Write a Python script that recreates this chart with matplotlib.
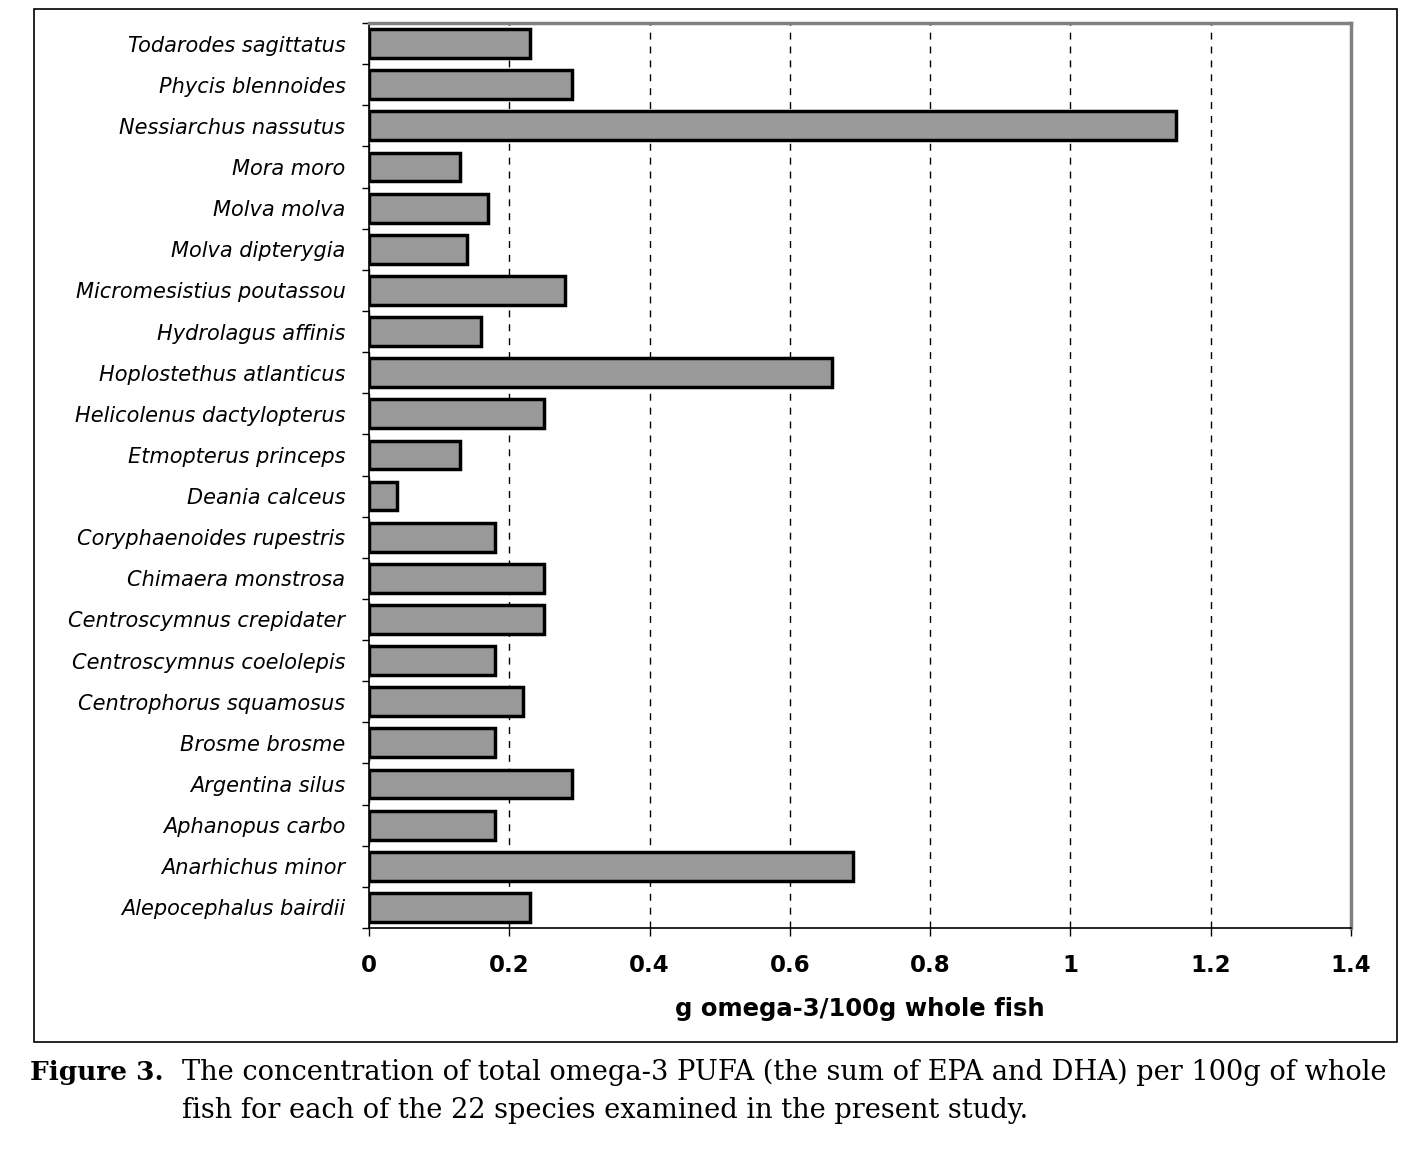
import matplotlib
matplotlib.use("Agg")
import matplotlib.pyplot as plt
from matplotlib.patches import Rectangle
import numpy as np

species = [
    "Alepocephalus bairdii", "Anarhichus minor", "Aphanopus carbo", "Argentina silus",
    "Brosme brosme", "Centrophorus squamosus", "Centroscymnus coelolepis",
    "Centroscymnus crepidater", "Chimaera monstrosa", "Coryphaenoides rupestris",
    "Deania calceus", "Etmopterus princeps", "Helicolenus dactylopterus",
    "Hoplostethus atlanticus", "Hydrolagus affinis", "Micromesistius poutassou",
    "Molva dipterygia", "Molva molva", "Mora moro", "Nessiarchus nassutus",
    "Phycis blennoides", "Todarodes sagittatus",
]
omega3 = [0.23, 0.69, 0.18, 0.29, 0.18, 0.22, 0.18, 0.25, 0.25, 0.18, 0.04, 0.13,
          0.25, 0.66, 0.16, 0.28, 0.14, 0.17, 0.13, 1.15, 0.29, 0.23]
xticks = [0, 0.2, 0.4, 0.6, 0.8, 1.0, 1.2, 1.4]
xticklabels = ["0", "0.2", "0.4", "0.6", "0.8", "1", "1.2", "1.4"]

W, H = 1413, 1150
fig = plt.figure(figsize=(W / 100, H / 100), dpi=100)
ax = fig.add_axes([369 / W, 1 - 928 / H, (1351 - 369) / W, (928 - 23) / H])

y = np.arange(len(species))
ax.barh(y, omega3, height=0.7, color="#999999", edgecolor="black", linewidth=2.5, zorder=3)
ax.set_ylim(-0.5, len(species) - 0.5)
ax.set_xlim(0, 1.4)

ax.set_yticks(np.arange(-0.5, len(species), 1.0))
ax.set_yticklabels([])
ax.set_yticks(y, minor=True)
ax.set_yticklabels(species, minor=True, fontstyle="italic", fontsize=15,
                   family="DejaVu Sans")
ax.tick_params(axis="y", which="minor", length=0, pad=17)
ax.tick_params(axis="y", which="major", length=5, width=1, direction="out")

ax.set_xticks(xticks)
ax.set_xticklabels(xticklabels, fontsize=16.5, fontweight="bold", family="DejaVu Sans")
ax.tick_params(axis="x", length=6, width=1, direction="out", pad=13)
ax.xaxis.grid(True, linestyle=(0, (5, 5)), color="black", linewidth=1, zorder=0)
ax.set_axisbelow(True)

ax.set_xlabel("g omega-3/100g whole fish", fontsize=17.5, fontweight="bold",
              family="DejaVu Sans", labelpad=14)

for s in ["top", "right"]:
    ax.spines[s].set_color("#808080")
    ax.spines[s].set_linewidth(2.5)
for s in ["left", "bottom"]:
    ax.spines[s].set_color("black")
    ax.spines[s].set_linewidth(1.2)

fig.patches.append(Rectangle((34 / W, 1 - 1042 / H), (1397 - 34) / W, (1042 - 9) / H,
                             transform=fig.transFigure, fill=False, edgecolor="black",
                             linewidth=1.2))

fig.text(30 / W, 1 - 1080 / H, "Figure 3.", fontsize=19, fontweight="bold",
         family="DejaVu Serif", va="baseline")
fig.text(182 / W, 1 - 1080 / H,
         "The concentration of total omega-3 PUFA (the sum of EPA and DHA) per 100g of whole",
         fontsize=19.6, family="DejaVu Serif", va="baseline")
fig.text(182 / W, 1 - 1118 / H,
         "fish for each of the 22 species examined in the present study.",
         fontsize=19.6, family="DejaVu Serif", va="baseline")

fig.savefig("out.png", dpi=100)
